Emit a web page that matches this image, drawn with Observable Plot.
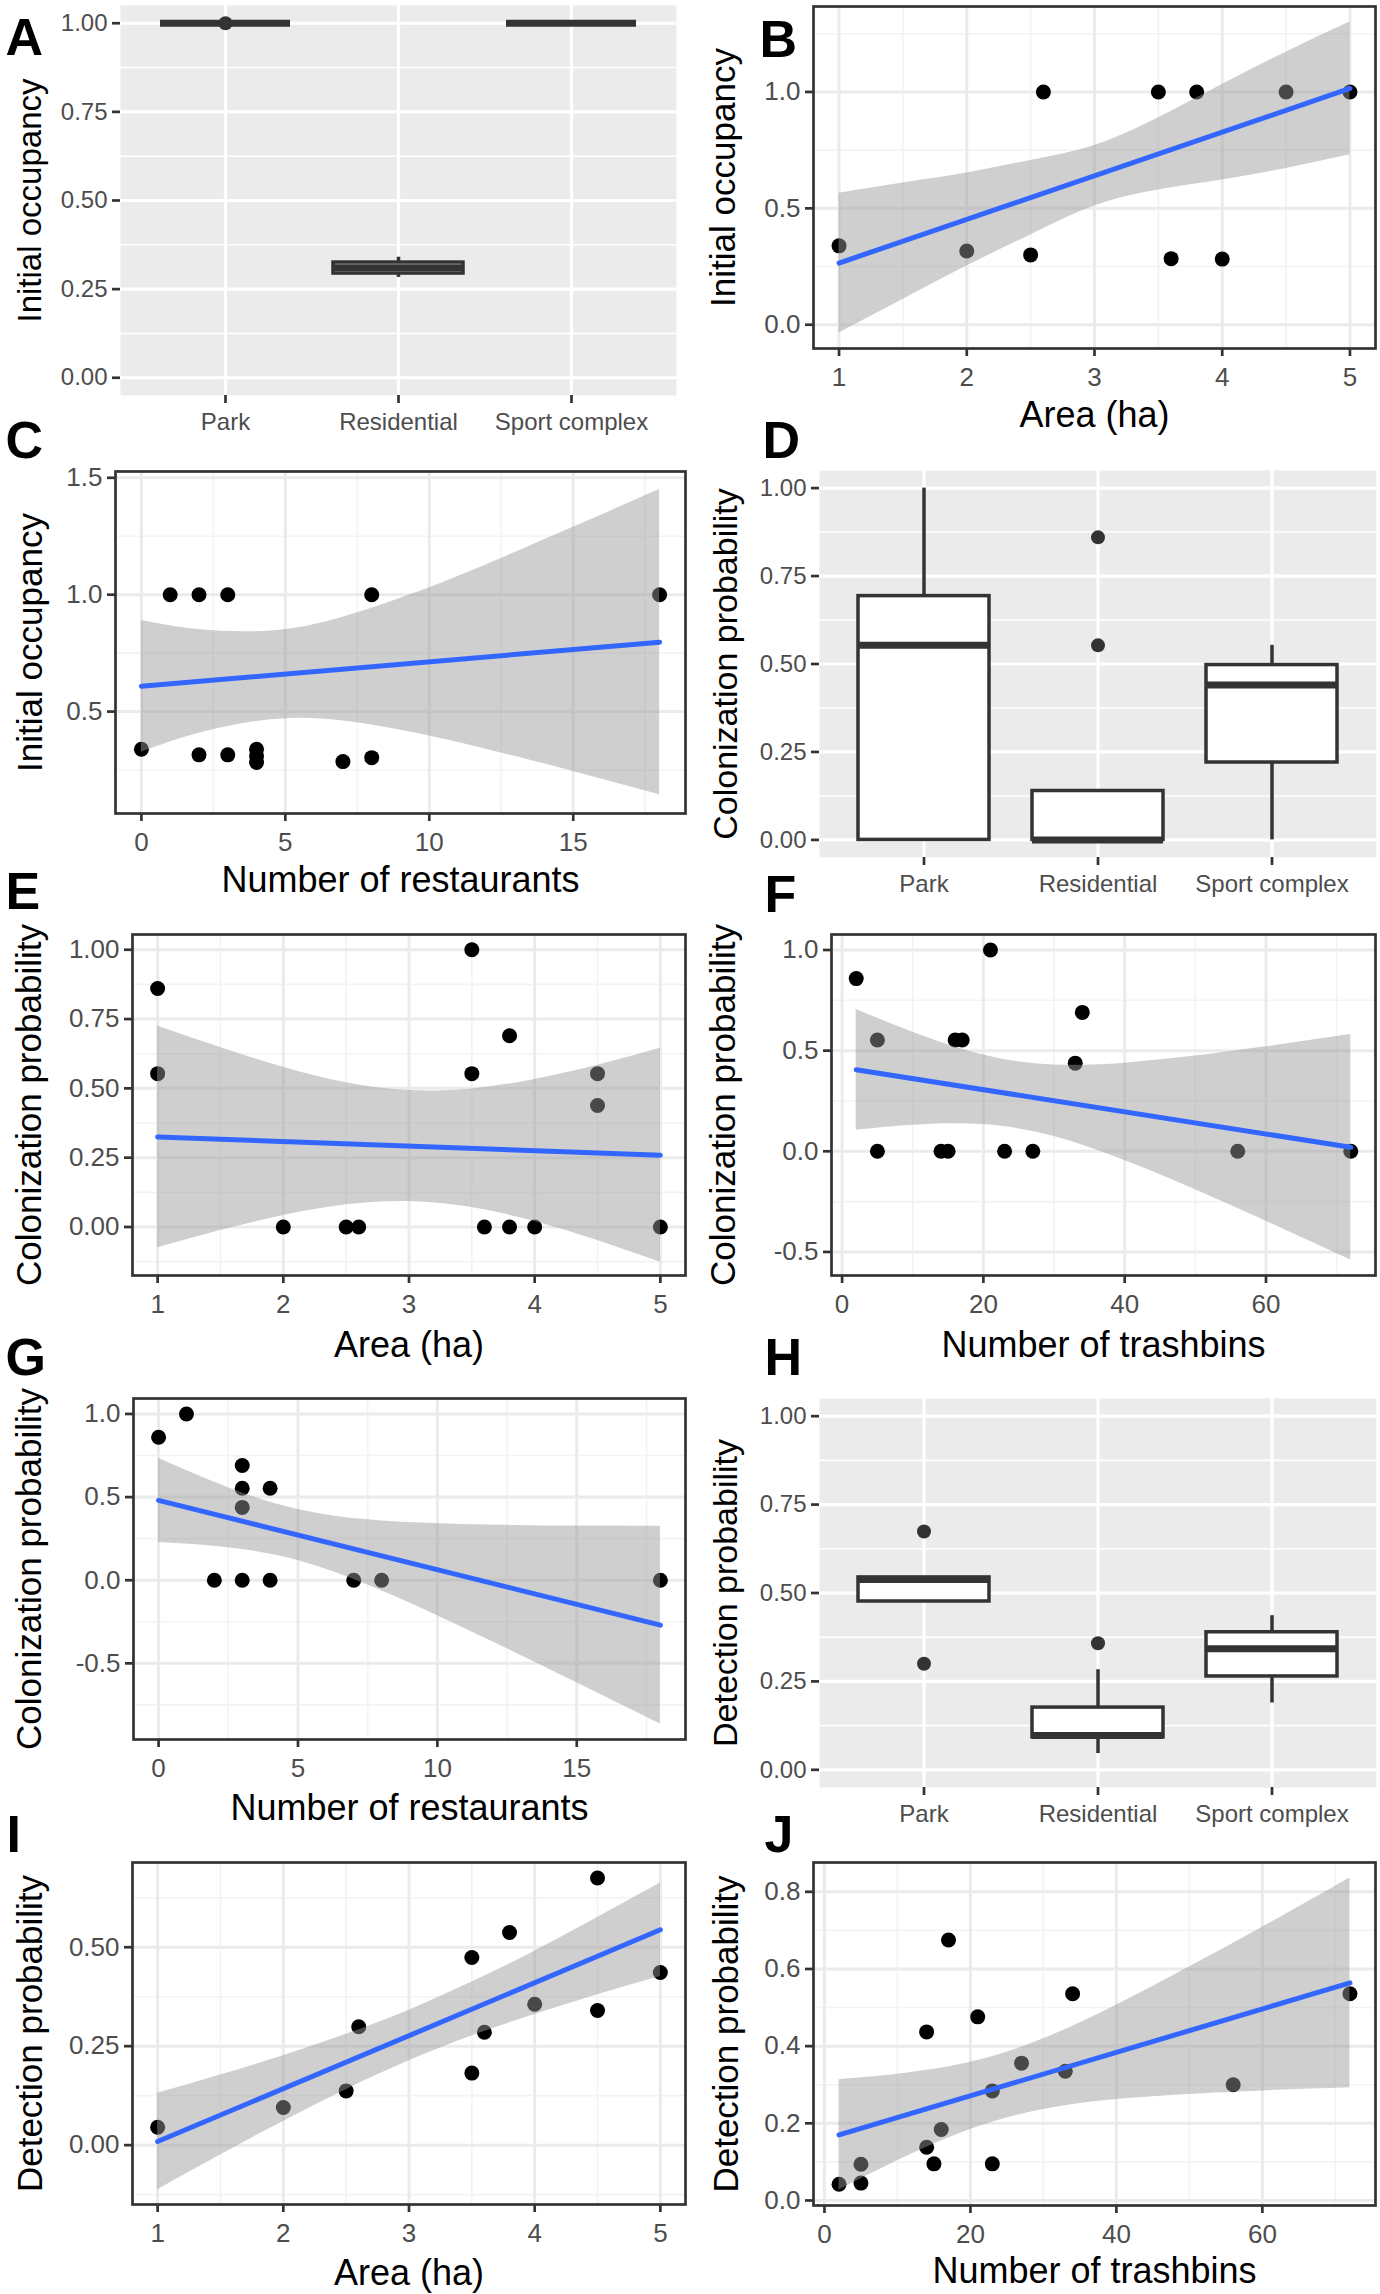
<!DOCTYPE html>
<html><head><meta charset="utf-8">
<script src="https://cdn.jsdelivr.net/npm/d3@7"></script>
<script src="https://cdn.jsdelivr.net/npm/@observablehq/plot@0.6"></script>
<style>
html,body{margin:0;padding:0;background:#fff;}
#fig{position:relative;width:1380px;height:2294px;overflow:hidden;background:#fff;}
#fig svg{position:absolute;}
</style></head><body><div id="fig"></div>
<script>
// ---------- data ----------
const habitats = ["Park", "Residential", "Sport complex"];

// A: initial occupancy by habitat (box stats)
const occLo  = [1.0, 0.283, 1.0];
const occQ1  = [1.0, 0.294, 1.0];
const occMed = [1.0, 0.310, 1.0];
const occQ3  = [1.0, 0.325, 1.0];
const occHi  = [1.0, 0.340, 1.0];
const occOutHab = ["Park"];
const occOutVal = [1.0];

// D: colonization probability by habitat
const colLo  = [0.0, 0.0, 0.0];
const colQ1  = [0.0, 0.0, 0.22];
const colMed = [0.553, 0.0, 0.44];
const colQ3  = [0.693, 0.139, 0.497];
const colHi  = [1.0, 0.139, 0.553];
const colOutHab = ["Residential", "Residential"];
const colOutVal = [0.86, 0.553];

// H: detection probability by habitat
const detLo  = [0.476, 0.046, 0.189];
const detQ1  = [0.476, 0.0915, 0.264];
const detMed = [0.538, 0.097, 0.342];
const detQ3  = [0.544, 0.176, 0.389];
const detHi  = [0.544, 0.283, 0.436];
const detOutHab = ["Park", "Park", "Residential"];
const detOutVal = [0.674, 0.30, 0.358];

// B: initial occupancy vs area
const bArea = [1, 2, 2.5, 2.6, 3.5, 3.6, 3.8, 4, 4.5, 5];
const bOcc  = [0.339, 0.317, 0.30, 1, 1, 0.284, 1, 0.282, 1, 1];
const bFitX = [1, 5], bFitY = [0.265, 1.015];
const bBandX = [1, 1.5, 2, 2.5, 3, 3.5, 4, 4.5, 5];
const bBandLo = [-0.035, 0.109, 0.252, 0.386, 0.51, 0.579, 0.622, 0.671, 0.73];
const bBandHi = [0.565, 0.609, 0.652, 0.706, 0.77, 0.889, 1.032, 1.171, 1.30];

// C: initial occupancy vs restaurants
const cRest = [0, 1, 2, 3, 8, 18, 2, 3, 4, 4, 4, 7, 8];
const cOcc  = [0.339, 1, 1, 1, 1, 1, 0.315, 0.315, 0.339, 0.31, 0.282, 0.286, 0.303];
const cFitX = [0, 18], cFitY = [0.608, 0.797];
const cBandX = [0, 2, 4.5, 7, 10, 12.5, 15, 18];
const cBandLo = [0.326, 0.407, 0.465, 0.46, 0.396, 0.323, 0.244, 0.144];
const cBandHi = [0.89, 0.851, 0.845, 0.904, 1.03, 1.155, 1.288, 1.45];

// E: colonization vs area
const eArea = [1, 1, 2, 2.5, 2.6, 3.5, 3.5, 3.6, 3.8, 3.8, 4, 4.5, 4.5, 5];
const eCol  = [0.86, 0.553, 0, 0, 0, 1, 0.553, 0, 0.69, 0, 0, 0.553, 0.438, 0];
const eFitX = [1, 5], eFitY = [0.325, 0.259];
const eBandX = [1, 1.5, 2, 2.5, 3, 3.5, 4, 4.5, 5];
const eBandLo = [-0.075, -0.013, 0.041, 0.08, 0.092, 0.07, 0.02, -0.049, -0.127];
const eBandHi = [0.725, 0.647, 0.576, 0.52, 0.492, 0.498, 0.532, 0.583, 0.645];

// F: colonization vs trashbins
const fBins = [2, 5, 5, 14, 15, 16, 17, 21, 23, 27, 33, 34, 56, 72];
const fCol  = [0.858, 0.553, 0, 0, 0, 0.553, 0.553, 1, 0, 0, 0.438, 0.69, 0, 0];
const fFitX = [2, 72], fFitY = [0.405, 0.02];
const fBandX = [2, 10, 20, 30, 40, 50, 60, 72];
const fBandLo = [0.105, 0.13, 0.133, 0.073, -0.046, -0.191, -0.347, -0.54];
const fBandHi = [0.705, 0.592, 0.479, 0.429, 0.438, 0.473, 0.519, 0.58];

// G: colonization vs restaurants
const gRest = [0, 1, 2, 3, 3, 3, 3, 4, 4, 7, 8, 18];
const gCol  = [0.86, 1, 0, 0.69, 0.553, 0.438, 0, 0.553, 0, 0, 0, 0];
const gFitX = [0, 18], gFitY = [0.48, -0.27];
const gBandX = [0, 2.5, 5, 7.5, 10, 12.5, 15, 18];
const gBandLo = [0.227, 0.196, 0.118, -0.029, -0.213, -0.412, -0.616, -0.865];
const gBandHi = [0.733, 0.556, 0.426, 0.363, 0.339, 0.33, 0.326, 0.325];

// I: detection vs area
const iArea = [1, 2, 2.5, 2.6, 3.5, 3.5, 3.6, 3.8, 4, 4.5, 4.5, 5];
const iDet  = [0.045, 0.095, 0.137, 0.299, 0.474, 0.182, 0.285, 0.537, 0.356, 0.675, 0.34, 0.436];
const iFitX = [1, 5], iFitY = [0.009, 0.544];
const iBandX = [1, 1.5, 2, 2.5, 3, 3.5, 4, 4.5, 5];
const iBandLo = [-0.113, -0.025, 0.06, 0.14, 0.213, 0.276, 0.33, 0.38, 0.426];
const iBandHi = [0.131, 0.177, 0.226, 0.28, 0.341, 0.412, 0.49, 0.575, 0.662];

// J: detection vs trashbins
const jBins = [2, 5, 5, 14, 14, 15, 16, 17, 21, 23, 23, 27, 33, 34, 56, 72];
const jDet  = [0.042, 0.094, 0.045, 0.138, 0.437, 0.095, 0.184, 0.675, 0.476, 0.284, 0.095, 0.356, 0.335, 0.536, 0.30, 0.536];
const jFitX = [2, 72], jFitY = [0.17, 0.564];
const jBandX = [2, 10, 20, 30, 40, 50, 60, 72];
const jBandLo = [0.027, 0.103, 0.184, 0.236, 0.262, 0.275, 0.284, 0.292];
const jBandHi = [0.313, 0.327, 0.358, 0.419, 0.506, 0.605, 0.708, 0.836];

// ticks
const probTicks = [0, 0.25, 0.5, 0.75, 1], probLabels = ["0.00", "0.25", "0.50", "0.75", "1.00"], probMinor = [0.125, 0.375, 0.625, 0.875];
const areaTicks = [1, 2, 3, 4, 5], areaLabels = ["1", "2", "3", "4", "5"], areaMinor = [1.5, 2.5, 3.5, 4.5];
const restTicks = [0, 5, 10, 15], restLabels = ["0", "5", "10", "15"], restMinor = [2.5, 7.5, 12.5, 17.5];
const binTicks = [0, 20, 40, 60], binLabels = ["0", "20", "40", "60"], binMinor = [10, 30, 50, 70];
const bYTicks = [0, 0.5, 1], bYLabels = ["0.0", "0.5", "1.0"], bYMinor = [0.25, 0.75, 1.25];
const cYTicks = [0.5, 1, 1.5], cYLabels = ["0.5", "1.0", "1.5"], cYMinor = [0.25, 0.75, 1.25];
const eYMinor = [-0.125, 0.125, 0.375, 0.625, 0.875];
const fYTicks = [-0.5, 0, 0.5, 1], fYLabels = ["-0.5", "0.0", "0.5", "1.0"], fYMinor = [-0.25, 0.25, 0.75];
const gYMinor = [-0.75, -0.25, 0.25, 0.75];
const iYTicks = [0, 0.25, 0.5], iYLabels = ["0.00", "0.25", "0.50"], iYMinor = [-0.125, 0.125, 0.375, 0.625];
const jYTicks = [0, 0.2, 0.4, 0.6, 0.8], jYLabels = ["0.0", "0.2", "0.4", "0.6", "0.8"], jYMinor = [0.1, 0.3, 0.5, 0.7];

// ---------- drawing ----------
const FONT = '"Liberation Sans", Arial, Helvetica, sans-serif';
const fig = document.getElementById("fig");
const MT = 80, MB = 110, COLW = 690;

function fmt(ticks, labels) { return d => labels[ticks.indexOf(d)]; }

function common(o) {
  return [
    Plot.text([o.letter], {text: d => d, frameAnchor: "top-left", dx: o.lx - o.pl, dy: o.lt - o.pt,
      textAnchor: "start", lineAnchor: "top", fontSize: 52, fontWeight: "bold", fill: "#000"}),
    Plot.text([o.yTitle], {text: d => d, frameAnchor: "left", dx: o.ytx - o.pl, rotate: -90,
      textAnchor: "middle", lineAnchor: "middle", fontSize: o.titleSize, fill: "#000"})
  ];
}

function mount(o, marks, x, y) {
  const colX = o.col * COLW;
  const svg = Plot.plot({
    width: COLW, height: (o.pb - o.pt) + MT + MB,
    marginTop: MT, marginBottom: MB, marginLeft: o.pl - colX, marginRight: colX + COLW - o.pr,
    style: {background: "transparent", overflow: "visible", fontFamily: FONT},
    x, y, marks
  });
  svg.style.left = colX + "px";
  svg.style.top = (o.pt - MT) + "px";
  fig.appendChild(svg);
}

function scatterPanel(o) {
  const pts = o.xs.map((x, i) => ({x, y: o.ys[i]}));
  const band = o.bx.map((x, i) => ({x, lo: o.blo[i], hi: o.bhi[i]}));
  const fit = o.fx.map((x, i) => ({x, y: o.fy[i]}));
  const marks = [
    Plot.ruleY(o.yMinor, {stroke: "#F3F3F3", strokeWidth: 1.6}),
    Plot.ruleX(o.xMinor.filter(v => v > o.xd[0] && v < o.xd[1]), {stroke: "#F3F3F3", strokeWidth: 1.6}),
    Plot.ruleY(o.yTicks, {stroke: "#EBEBEB", strokeWidth: 3}),
    Plot.ruleX(o.xTicks, {stroke: "#EBEBEB", strokeWidth: 3}),
    Plot.dot(pts, {x: "x", y: "y", r: 7.5, fill: "#000"}),
    Plot.areaY(band, {x: "x", y1: "lo", y2: "hi", fill: "#999999", fillOpacity: 0.47, curve: "natural"}),
    Plot.line(fit, {x: "x", y: "y", stroke: "#3366FF", strokeWidth: 5}),
    Plot.frame({stroke: "#333333", strokeWidth: 2.7}),
    Plot.axisX({ticks: o.xTicks, tickFormat: fmt(o.xTicks, o.xLabels), tickSize: 8, tickPadding: 11,
      fontSize: 26, stroke: "#333333", fill: "#4D4D4D", strokeWidth: 2.7, label: null}),
    Plot.axisY({ticks: o.yTicks, tickFormat: fmt(o.yTicks, o.yLabels), tickSize: 8, tickPadding: 5,
      fontSize: 26, stroke: "#333333", fill: "#4D4D4D", strokeWidth: 2.7, label: null}),
    Plot.text([o.xTitle], {text: d => d, frameAnchor: "bottom", dy: o.xtdy, textAnchor: "middle", lineAnchor: "middle",
      fontSize: 36, fill: "#000"}),
    ...common(o)
  ];
  mount(o, marks, {domain: o.xd}, {domain: o.yd});
}

function boxPanel(o) {
  const boxes = habitats.map((h, i) => ({h, lo: o.lo[i], q1: o.q1[i], med: o.med[i], q3: o.q3[i], hi: o.hi[i]}));
  const outs = o.outH.map((h, i) => ({h, v: o.outV[i]}));
  const marks = [
    Plot.frame({fill: "#EBEBEB"}),
    Plot.ruleY(probMinor, {stroke: "#FFFFFF", strokeWidth: 1.6}),
    Plot.ruleY(probTicks, {stroke: "#FFFFFF", strokeWidth: 3.2}),
    Plot.ruleX(habitats, {stroke: "#FFFFFF", strokeWidth: 3.2}),
    Plot.ruleX(boxes, {x: "h", y1: "lo", y2: "q1", stroke: "#333333", strokeWidth: 3.5}),
    Plot.ruleX(boxes, {x: "h", y1: "q3", y2: "hi", stroke: "#333333", strokeWidth: 3.5}),
    Plot.barY(boxes, {x: "h", y1: "q1", y2: "q3", fill: "#FFFFFF", stroke: "#333333", strokeWidth: 3.5}),
    Plot.tickY(boxes, {x: "h", y: "med", stroke: "#333333", strokeWidth: 7}),
    Plot.dot(outs, {x: "h", y: "v", r: 7, fill: "#333333"}),
    Plot.axisX({tickSize: 8, tickPadding: 9, fontSize: 24, stroke: "#333333", fill: "#4D4D4D", strokeWidth: 2.7, label: null}),
    Plot.axisY({ticks: probTicks, tickFormat: fmt(probTicks, probLabels), tickSize: 8, tickPadding: 5,
      fontSize: 24, stroke: "#333333", fill: "#4D4D4D", strokeWidth: 2.7, label: null}),
    ...common(o)
  ];
  mount(o, marks,
    {type: "band", domain: habitats, paddingInner: 0.25, paddingOuter: 0.225},
    {domain: [-0.05, 1.05]});
}

// A
boxPanel({col: 0, pl: 120, pr: 676, pt: 5, pb: 395, letter: "A", lx: 5, lt: 18, ytx: 30, titleSize: 33,
  yTitle: "Initial occupancy", lo: occLo, q1: occQ1, med: occMed, q3: occQ3, hi: occHi, outH: occOutHab, outV: occOutVal});
// B
scatterPanel({col: 1, pl: 813, pr: 1375, pt: 6, pb: 348, letter: "B", lx: 759, lt: 20, ytx: 723, titleSize: 35,
  yTitle: "Initial occupancy", xTitle: "Area (ha)", xtdy: 67,
  xs: bArea, ys: bOcc, fx: bFitX, fy: bFitY, bx: bBandX, blo: bBandLo, bhi: bBandHi,
  xd: [0.8, 5.2], yd: [-0.102, 1.367], xTicks: areaTicks, xLabels: areaLabels, xMinor: areaMinor,
  yTicks: bYTicks, yLabels: bYLabels, yMinor: bYMinor});
// C
scatterPanel({col: 0, pl: 115, pr: 685, pt: 471, pb: 813, letter: "C", lx: 5, lt: 421, ytx: 30, titleSize: 35,
  yTitle: "Initial occupancy", xTitle: "Number of restaurants", xtdy: 67,
  xs: cRest, ys: cOcc, fx: cFitX, fy: cFitY, bx: cBandX, blo: cBandLo, bhi: cBandHi,
  xd: [-0.9, 18.9], yd: [0.064, 1.527], xTicks: restTicks, xLabels: restLabels, xMinor: restMinor,
  yTicks: cYTicks, yLabels: cYLabels, yMinor: cYMinor});
// D
boxPanel({col: 1, pl: 819, pr: 1376, pt: 470, pb: 857, letter: "D", lx: 762, lt: 421, ytx: 726, titleSize: 34,
  yTitle: "Colonization probability", lo: colLo, q1: colQ1, med: colMed, q3: colQ3, hi: colHi, outH: colOutHab, outV: colOutVal});
// E
scatterPanel({col: 0, pl: 132, pr: 685, pt: 934, pb: 1275, letter: "E", lx: 5, lt: 872, ytx: 29, titleSize: 35,
  yTitle: "Colonization probability", xTitle: "Area (ha)", xtdy: 70,
  xs: eArea, ys: eCol, fx: eFitX, fy: eFitY, bx: eBandX, blo: eBandLo, bhi: eBandHi,
  xd: [0.8, 5.2], yd: [-0.175, 1.055], xTicks: areaTicks, xLabels: areaLabels, xMinor: areaMinor,
  yTicks: probTicks, yLabels: probLabels, yMinor: eYMinor});
// F
scatterPanel({col: 1, pl: 831, pr: 1375, pt: 934, pb: 1275, letter: "F", lx: 764, lt: 875, ytx: 723, titleSize: 35,
  yTitle: "Colonization probability", xTitle: "Number of trashbins", xtdy: 70,
  xs: fBins, ys: fCol, fx: fFitX, fy: fFitY, bx: fBandX, blo: fBandLo, bhi: fBandHi,
  xd: [-1.5, 75.5], yd: [-0.617, 1.077], xTicks: binTicks, xLabels: binLabels, xMinor: binMinor,
  yTicks: fYTicks, yLabels: fYLabels, yMinor: fYMinor});
// G
scatterPanel({col: 0, pl: 133, pr: 685, pt: 1398, pb: 1739, letter: "G", lx: 5, lt: 1338, ytx: 29, titleSize: 35,
  yTitle: "Colonization probability", xTitle: "Number of restaurants", xtdy: 69,
  xs: gRest, ys: gCol, fx: gFitX, fy: gFitY, bx: gBandX, blo: gBandLo, bhi: gBandHi,
  xd: [-0.9, 18.9], yd: [-0.958, 1.093], xTicks: restTicks, xLabels: restLabels, xMinor: restMinor,
  yTicks: fYTicks, yLabels: fYLabels, yMinor: gYMinor});
// H
boxPanel({col: 1, pl: 819, pr: 1376, pt: 1398, pb: 1787, letter: "H", lx: 764, lt: 1338, ytx: 726, titleSize: 34,
  yTitle: "Detection probability", lo: detLo, q1: detQ1, med: detMed, q3: detQ3, hi: detHi, outH: detOutHab, outV: detOutVal});
// I
scatterPanel({col: 0, pl: 132, pr: 685, pt: 1862, pb: 2204, letter: "I", lx: 6, lt: 1815, ytx: 30, titleSize: 35,
  yTitle: "Detection probability", xTitle: "Area (ha)", xtdy: 69,
  xs: iArea, ys: iDet, fx: iFitX, fy: iFitY, bx: iBandX, blo: iBandLo, bhi: iBandHi,
  xd: [0.8, 5.2], yd: [-0.15, 0.714], xTicks: areaTicks, xLabels: areaLabels, xMinor: areaMinor,
  yTicks: iYTicks, yLabels: iYLabels, yMinor: iYMinor});
// J
scatterPanel({col: 1, pl: 813, pr: 1375, pt: 1862, pb: 2205, letter: "J", lx: 764, lt: 1815, ytx: 726, titleSize: 35,
  yTitle: "Detection probability", xTitle: "Number of trashbins", xtdy: 66,
  xs: jBins, ys: jDet, fx: jFitX, fy: jFitY, bx: jBandX, blo: jBandLo, bhi: jBandHi,
  xd: [-1.5, 75.5], yd: [-0.013, 0.876], xTicks: binTicks, xLabels: binLabels, xMinor: binMinor,
  yTicks: jYTicks, yLabels: jYLabels, yMinor: jYMinor});
</script></body></html>
